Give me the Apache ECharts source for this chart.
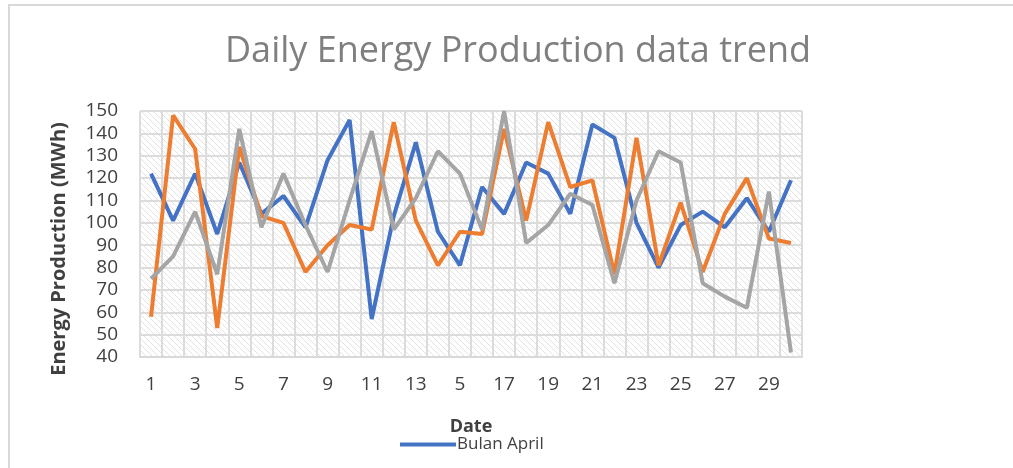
<!DOCTYPE html>
<html>
<head>
<meta charset="utf-8">
<script src="https://cdn.jsdelivr.net/npm/echarts@6/dist/echarts.min.js"></script>
<style>
html,body{margin:0;padding:0;background:#fff;}
#chart{width:1013px;height:468px;}
</style>
</head>
<body>
<div id="chart"></div>
<script>
// ---- data ----
var dates = ['1','2','3','4','5','6','7','8','9','10','11','12','13','14','15','16','17','18','19','20','21','22','23','24','25','26','27','28','29','30'];
var dateLabels = ['1','','3','','5','','7','','9','','11','','13','','5','','17','','19','','21','','23','','25','','27','','29',''];
var bulanApril = [122,101,122,95,127,104,112,98,128,146,57,103,136,96,81,116,104,127,122,104,144,138,100,80,99,105,98,111,96,119];
var series2 = [58,148,133,53,134,103,100,78,90,99,97,145,101,81,96,95,142,101,145,116,119,77,138,81,109,78,104,120,93,91];
var series3 = [75,85,105,77,142,98,122,99,78,110,141,97,111,132,122,97,150,91,99,113,108,73,110,132,127,73,67,62,114,42];
var yTicks = {min: 40, max: 150, step: 10};

// hatched pattern for plot background
var tile = document.createElement('canvas');
tile.width = 6; tile.height = 6;
var c = tile.getContext('2d');
c.fillStyle = '#ffffff';
c.fillRect(0,0,6,6);
c.strokeStyle = '#e2e2e2';
c.lineWidth = 1;
c.beginPath();
c.moveTo(-1,-1); c.lineTo(7,7);
c.moveTo(-7,-1); c.lineTo(1,7);
c.moveTo(5,-1); c.lineTo(13,7);
c.stroke();

var chart = echarts.init(document.getElementById('chart'), null, {renderer: 'canvas'});
var txt = '#404040';
chart.setOption({
  animation: false,
  backgroundColor: '#ffffff',
  title: {
    text: 'Daily Energy Production data trend',
    left: 220, top: 29,
    textStyle: {fontFamily: 'Open Sans', fontWeight: 'normal', fontSize: 36, color: '#7f7f7f'}
  },
  graphic: [{
    type: 'rect', silent: true, z: -1,
    shape: {x: 9, y: 5, width: 1100, height: 600},
    style: {fill: 'none', stroke: '#d9d9d9', lineWidth: 2}
  }],
  legend: {
    data: ['Bulan April'],
    left: 395, top: 431,
    icon: 'rect', itemWidth: 56, itemHeight: 4, itemGap: 10,
    textStyle: {fontFamily: 'Open Sans', fontSize: 17, color: txt, padding: [0,0,0,-4]}
  },
  grid: {
    left: 140, right: 211, top: 111, bottom: 111,
    show: true, borderWidth: 0,
    backgroundColor: {image: tile, repeat: 'repeat'}
  },
  xAxis: {
    type: 'category',
    data: dates,
    boundaryGap: true,
    name: 'Date', nameLocation: 'middle', nameGap: 61,
    nameTextStyle: {fontFamily: 'Open Sans', fontWeight: 'bold', fontSize: 18, color: txt},
    axisLine: {show: true, lineStyle: {color: '#d9d9d9', width: 2}},
    axisTick: {show: false},
    axisLabel: {
      interval: 0, margin: 18,
      fontFamily: 'Open Sans', fontSize: 19, color: txt,
      formatter: function (v, i) { return dateLabels[i]; }
    },
    splitLine: {show: true, interval: 0, lineStyle: {color: '#dcdcdc', width: 2}}
  },
  yAxis: {
    type: 'value',
    min: yTicks.min, max: yTicks.max, interval: yTicks.step,
    name: 'Energy Production (MWh)', nameLocation: 'middle', nameGap: 71, nameRotate: 90,
    nameTextStyle: {fontFamily: 'Open Sans', fontWeight: 'bold', fontSize: 20, color: txt, padding: [0, 30, 0, 0]},
    axisLine: {show: false},
    axisTick: {show: false},
    axisLabel: {margin: 22, fontFamily: 'Open Sans', fontSize: 19, color: txt},
    splitLine: {show: true, lineStyle: {color: '#dcdcdc', width: 2}}
  },
  series: [
    {name: 'Bulan April', type: 'line', data: bulanApril, symbol: 'none', color: '#4472C4', lineStyle: {width: 4, color: '#4472C4'}},
    {name: 'Series 2', type: 'line', data: series2, symbol: 'none', color: '#ED7D31', lineStyle: {width: 4, color: '#ED7D31'}},
    {name: 'Series 3', type: 'line', data: series3, symbol: 'none', color: '#A5A5A5', lineStyle: {width: 4, color: '#A5A5A5'}}
  ]
});
</script>
</body>
</html>
